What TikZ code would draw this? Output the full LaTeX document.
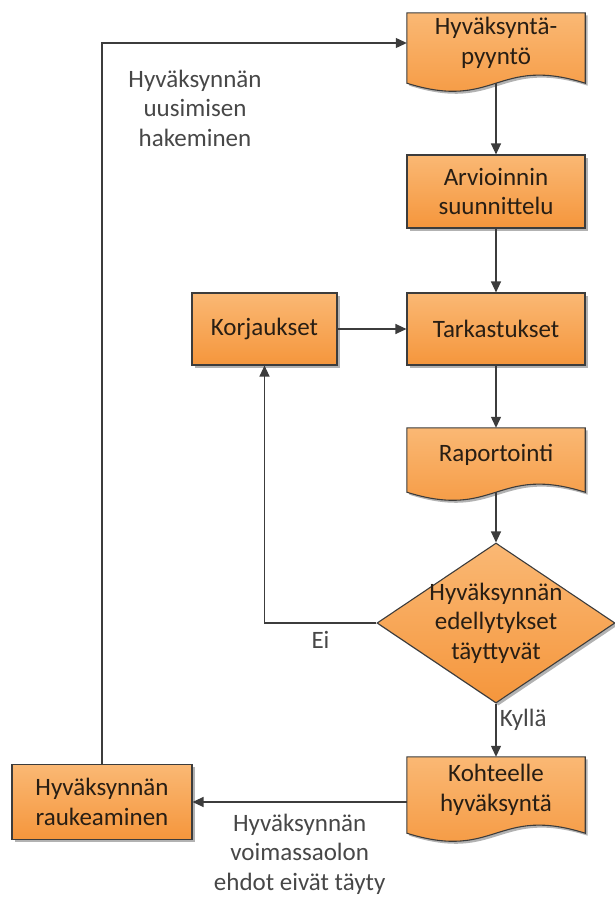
\documentclass[tikz,border=0pt]{standalone}
\usepackage{fontspec}
\setmainfont{Carlito}
\usetikzlibrary{shapes.geometric,arrows.meta,shadows,backgrounds}

\definecolor{boxtop}{RGB}{250,184,116}
\definecolor{boxbot}{RGB}{245,150,60}
\definecolor{edgegray}{RGB}{60,60,60}
\definecolor{boxtext}{RGB}{40,30,20}

\begin{document}
\begin{tikzpicture}[x=1pt,y=-1pt,
  font=\fontsize{25}{29.5}\selectfont,
  boxlook/.style={draw=edgegray,line width=1.1pt,top color=boxtop,bottom color=boxbot,
    drop shadow={shadow xshift=2.5pt,shadow yshift=-2.5pt,fill=black,opacity=.3}},
  stepbox/.style={boxlook,text=boxtext,align=center,minimum width=178pt,inner sep=0pt},
  docbox/.style={text=boxtext,align=center,minimum width=178pt,inner sep=0pt},
  decision/.style={boxlook,shape=diamond,minimum width=238pt,minimum height=160pt,inner sep=0pt},
  arr/.style={draw=edgegray,line width=1.2pt,-{Triangle[length=11pt,width=10pt]}},
  lbl/.style={text=black!72,align=center}]
\useasboundingbox (0,0) rectangle (615,900);

\node[docbox,minimum height=60pt] (req) at (496,43) {Hyväksyntä-\\pyyntö};
\node[stepbox,minimum height=73pt] (arv) at (496,191.5) {Arvioinnin\\suunnittelu};
\node[stepbox,minimum height=72pt] (tar) at (496,329) {Tarkastukset};
\node[stepbox,minimum width=145pt,minimum height=72pt] (kor) at (264.5,329) {Korjaukset};
\node[docbox,minimum height=54pt] (rap) at (496,455) {Raportointi};
\node[decision] (dia) at (496,623) {};
\node[text=boxtext,align=center] (diatext) at (dia) {Hyväksynnän\\edellytykset\\täyttyvät};
\node[docbox,minimum height=66pt] (koh) at (496,790) {Kohteelle\\hyväksyntä};
\node[stepbox,minimum width=180pt,minimum height=75pt] (rau) at (102,802) {Hyväksynnän\\raukeaminen};

% document shapes behind the texts
\begin{scope}[on background layer]
\foreach \d in {req,rap,koh}
  \draw[boxlook] (\d.north west) -- (\d.north east) -- ([yshift=-10pt]\d.south east)
    .. controls ([xshift=-89pt,yshift=18pt]\d.south east) and ([xshift=89pt,yshift=-38pt]\d.south west)
    .. ([yshift=-10pt]\d.south west) -- cycle;
\end{scope}

\draw[arr] ([yshift=-10pt]req.south) -- (arv);
\draw[arr] (arv) -- (tar);
\draw[arr] (kor) -- (tar);
\draw[arr] (tar) -- (rap);
\draw[arr] ([yshift=-10pt]rap.south) -- (dia.north);
\draw[arr] (dia.south) -- node[pos=.3,right,lbl] {Kyllä} (koh.north);
\draw[arr] (dia.west) -| node[pos=.25,below=4pt,lbl] {Ei} (kor.south);
\draw[arr] (koh.west |- rau.east) -- node[below=8pt,lbl] {Hyväksynnän\\voimassaolon\\ehdot eivät täyty} (rau.east);
\draw[arr] (rau.north) |- (req.west);
\node[lbl] (renew) at (195,108) {Hyväksynnän\\uusimisen\\hakeminen};
\end{tikzpicture}
\end{document}
